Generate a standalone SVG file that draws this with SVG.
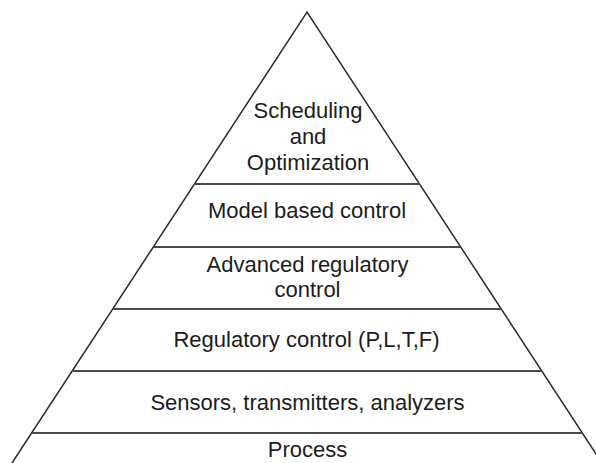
<svg xmlns="http://www.w3.org/2000/svg" width="596" height="463" viewBox="0 0 596 463">
  <style>
    .side { fill: none; stroke: #2a2a2a; stroke-width: 1.5; stroke-linejoin: miter; }
    .div { stroke: #4a4a4a; stroke-width: 1.8; }
    .lbl { font-family: "Liberation Sans", Arial, sans-serif; font-size: 22px; fill: #1c1c1c; text-anchor: middle; }
  </style>
  <rect width="596" height="463" fill="#ffffff"/>
  <g id="pyramid">
    <polyline class="side" points="12,463 307,12 602,463"/>
  </g>
  <g id="dividers">
    <line class="div" x1="194.5" y1="184" x2="419.5" y2="184"/>
    <line class="div" x1="153.3" y1="247" x2="460.7" y2="247"/>
    <line class="div" x1="112.8" y1="309" x2="501.2" y2="309"/>
    <line class="div" x1="72.2" y1="371" x2="541.8" y2="371"/>
    <line class="div" x1="31.7" y1="433" x2="582.3" y2="433"/>
  </g>
  <g id="layer-scheduling">
    <text class="lbl" x="308" y="118">Scheduling</text>
    <text class="lbl" x="308" y="144">and</text>
    <text class="lbl" x="308" y="170">Optimization</text>
  </g>
  <g id="layer-model">
    <text class="lbl" x="307" y="218">Model based control</text>
  </g>
  <g id="layer-advanced">
    <text class="lbl" x="307.5" y="272">Advanced regulatory</text>
    <text class="lbl" x="307.5" y="297">control</text>
  </g>
  <g id="layer-regulatory">
    <text class="lbl" x="306.5" y="347">Regulatory control (P,L,T,F)</text>
  </g>
  <g id="layer-sensors">
    <text class="lbl" x="307.5" y="410">Sensors, transmitters, analyzers</text>
  </g>
  <g id="layer-process">
    <text class="lbl" x="307.5" y="457">Process</text>
  </g>
</svg>
